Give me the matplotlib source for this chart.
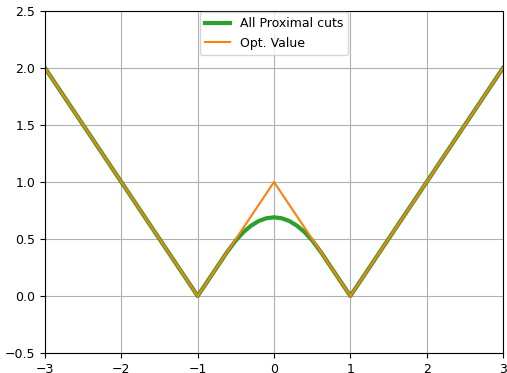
import matplotlib
matplotlib.use("Agg")
import matplotlib.pyplot as plt

cuts_x = [-3.0, -1.0, -0.62, -0.5, -0.4, -0.3, -0.2, -0.1, 0.0, 0.1, 0.2, 0.3, 0.4, 0.5, 0.62, 1.0, 3.0]
cuts_y = [2.0, 0.0, 0.38, 0.488, 0.561, 0.617, 0.658, 0.682, 0.69, 0.682, 0.658, 0.617, 0.561, 0.488, 0.38, 0.0, 2.0]
opt_x = [-3.0, -1.0, 0.0, 1.0, 3.0]
opt_y = [2.0, 0.0, 1.0, 0.0, 2.0]

fig = plt.figure(figsize=(5.07, 3.73), dpi=100)
ax = fig.add_axes([45/507, 1 - 353/373, 458/507, 342/373])
ax.plot(cuts_x, cuts_y, color="#2ca02c", lw=3, label="All Proximal cuts")
ax.plot(opt_x, opt_y, color="#ff7f0e", lw=1.5, label="Opt. Value")
ax.set_xlim(-3, 3)
ax.set_ylim(-0.5, 2.5)
ax.set_xticks([-3, -2, -1, 0, 1, 2, 3])
ax.set_yticks([-0.5, 0.0, 0.5, 1.0, 1.5, 2.0, 2.5])
ax.grid(True, color="#b0b0b0", lw=0.8)
ax.tick_params(labelsize=9)
ax.legend(loc="upper center", fontsize=9, borderaxespad=0.1)
fig.savefig("out.png", dpi=100)
